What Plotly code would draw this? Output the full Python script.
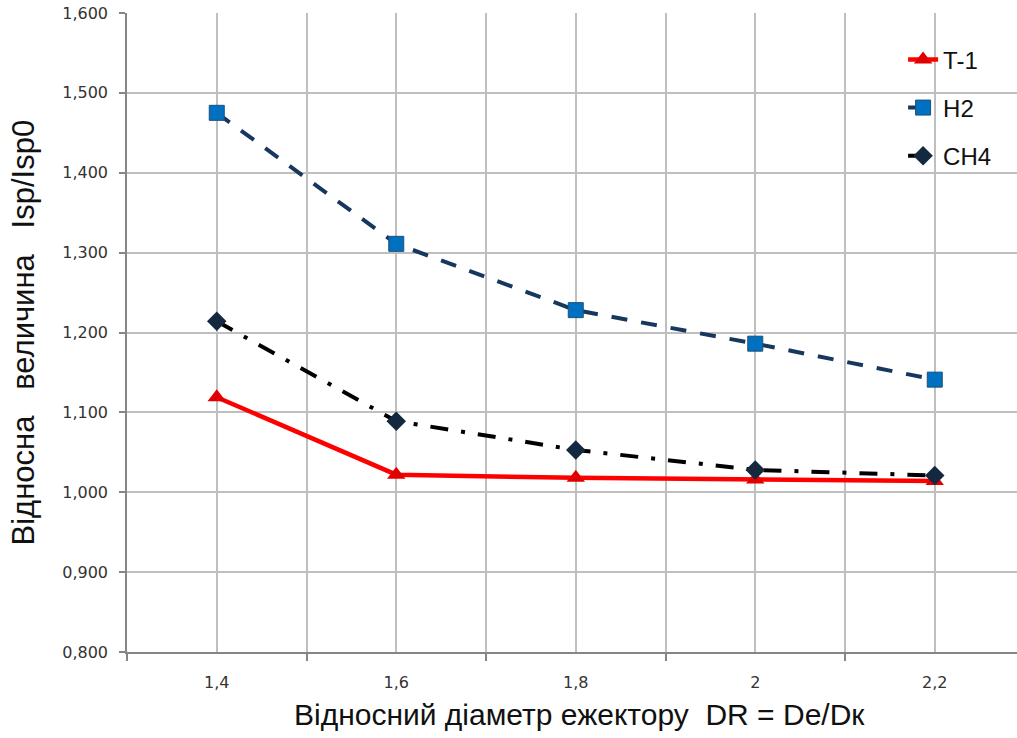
import plotly.graph_objects as go

x_vals = [1.4, 1.6, 1.8, 2.0, 2.2]
x_labels = ["1,4", "1,6", "1,8", "2", "2,2"]
t1 = [1.119, 1.022, 1.018, 1.016, 1.014]
h2 = [1.475, 1.311, 1.228, 1.186, 1.141]
ch4 = [1.214, 1.089, 1.053, 1.028, 1.021]
y_ticks = [0.8, 0.9, 1.0, 1.1, 1.2, 1.3, 1.4, 1.5, 1.6]
x_minor = [1.3, 1.5, 1.7, 1.9, 2.1]

fig = go.Figure()
fig.add_trace(go.Scatter(
    x=x_vals, y=t1, name="T-1", mode="lines+markers", legendgroup="a",
    line=dict(color="#FF0000", width=4.5),
    marker=dict(symbol="triangle-up", size=16, color="#E00000"),
))
fig.add_trace(go.Scatter(
    x=x_vals, y=h2, name="H2", mode="lines+markers", legendgroup="b",
    line=dict(color="#17375E", width=4, dash="16px,14px"),
    marker=dict(symbol="square", size=15, color="#0070C0",
                line=dict(color="#1F4E79", width=1)),
))
fig.add_trace(go.Scatter(
    x=x_vals, y=ch4, name="CH4", mode="lines+markers", legendgroup="c",
    line=dict(color="#000000", width=4, dash="18px,13px,4px,13px"),
    marker=dict(symbol="diamond", size=15, color="#14283F"),
))

grid_c = "#BFBFBF"
axis_c = "#868686"
tick_font = dict(family="DejaVu Sans", size=16, color="#333333")

fig.update_layout(
    width=1017, height=738,
    margin=dict(l=127, r=0, t=13, b=86),
    paper_bgcolor="white", plot_bgcolor="white",
    separators=", ",
    showlegend=True,
    legend=dict(
        x=0.872, y=0.962, xanchor="left", yanchor="top",
        bgcolor="rgba(0,0,0,0)", tracegroupgap=14,
        font=dict(family="Liberation Sans", size=24, color="#111111"),
    ),
    xaxis=dict(
        range=[1.3, 1.3 + 890 / 897.5],
        tickvals=x_vals, ticktext=x_labels, ticks="",
        showgrid=True, gridcolor=grid_c, gridwidth=1.5,
        showline=True, linecolor=axis_c, linewidth=1.5,
        zeroline=False, tickfont=tick_font, ticklabelstandoff=15,
        ticklabeloverflow="allow",
        minor=dict(tickvals=x_minor, ticks="outside", ticklen=7,
                   tickcolor=axis_c, tickwidth=1.5,
                   showgrid=True, gridcolor=grid_c, gridwidth=1.5),
    ),
    yaxis=dict(
        range=[0.8, 1.6], tickvals=y_ticks, tickformat=".3f",
        ticks="outside", ticklen=6, tickcolor=axis_c, tickwidth=1.5,
        showgrid=True, gridcolor=grid_c, gridwidth=1.5,
        showline=True, linecolor=axis_c, linewidth=1.5,
        zeroline=False, tickfont=tick_font, ticklabelstandoff=8,
        ticklabeloverflow="allow",
    ),
    annotations=[
        dict(text="Відносна\u00a0\u00a0\u00a0величина\u00a0\u00a0\u00a0Isp/Isp0",
             xref="paper", yref="paper", x=(23 - 127) / 890, y=0.5,
             xanchor="center", yanchor="middle", textangle=-90,
             showarrow=False,
             font=dict(family="Liberation Sans", size=31, color="#111111")),
        dict(text="Відносний діаметр ежектору\u00a0\u00a0DR = De/Dк",
             xref="paper", yref="paper", x=(579 - 127) / 890, y=(652 - 714) / 639,
             xanchor="center", yanchor="middle", showarrow=False,
             font=dict(family="Liberation Sans", size=30, color="#111111")),
    ],
)

fig.write_html(
    "out.html",
    config={"displayModeBar": False},
    post_script="document.body.style.margin='0';document.body.style.overflow='hidden';",
)
